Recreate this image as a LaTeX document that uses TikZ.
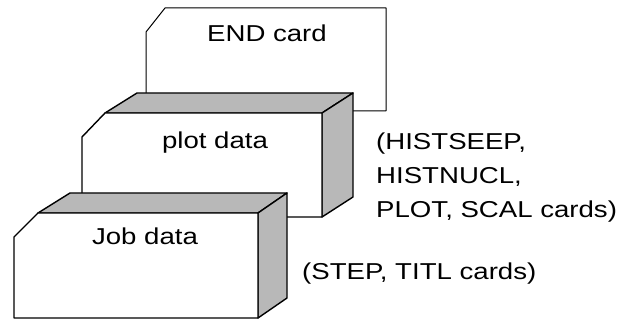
\documentclass[tikz,border=0pt]{standalone}
\usepackage{fontspec}
\setmainfont[FakeStretch=1.2]{Liberation Sans}
\tikzset{
  cardedge/.style={fill=white, draw=black, line width=1.4pt, line join=round},
  cardshade/.style={fill=black!28, draw=black, line width=1.4pt, line join=round},
  cardlabel/.style={font=\fontsize{23}{34}\selectfont, anchor=base, inner sep=0pt},
  notelabel/.style={font=\fontsize{23}{34}\selectfont, anchor=base west, align=left, inner sep=0pt},
}

\begin{document}
\begin{tikzpicture}[x=1pt, y=-1pt]
\useasboundingbox (0,0) rectangle (622,320);
% END card
\draw[cardedge, line width=1pt] (146,32) -- (165,8) -- (386,8) -- (386,111) -- (146,111) -- cycle;
\node[cardlabel] (endcard) at (267,42) {END card};
% plot data box
\draw[cardshade] (105,113) -- (137,93) -- (353,93) -- (322,113) -- cycle;
\draw[cardshade] (322,113) -- (353,93) -- (353,197) -- (322,217) -- cycle;
\draw[cardedge] (82,137) -- (105,113) -- (322,113) -- (322,217) -- (82,217) -- cycle;
\node[cardlabel] (plotdata) at (215,149) {plot data};
% Job data box
\draw[cardshade] (38,213) -- (70,193) -- (287,193) -- (258,213) -- cycle;
\draw[cardshade] (258,213) -- (287,193) -- (287,298) -- (258,318) -- cycle;
\draw[cardedge] (14,237) -- (38,213) -- (258,213) -- (258,318) -- (14,318) -- cycle;
\node[cardlabel] (jobdata) at (145,245) {Job data};
% notes (base is the last line)
\node[notelabel] (plotnote) at (376,218) {(HISTSEEP,\\HISTNUCL,\\PLOT, SCAL cards)};
\node[notelabel] (jobnote) at (302,280) {(STEP, TITL cards)};
\end{tikzpicture}
\end{document}
